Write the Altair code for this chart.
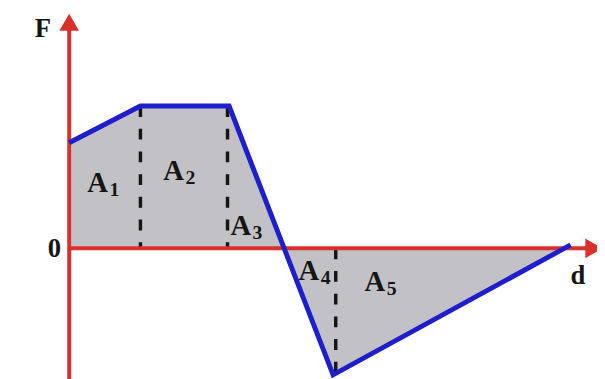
import altair as alt
import pandas as pd

# Force curve F(d)
d_pts = [0.0, 1.35, 3.03, 5.0, 9.5]
F_pts = [3.69, 4.97, 4.97, -4.42, 0.12]

# dashed separators
dash_d = [1.35, 3.0, 5.05]
dash_top = [4.97, 4.97, 0.0]
dash_bot = [0.0, 0.0, -4.42]

# area labels
area_letter = ["A", "A", "A", "A", "A"]
area_sub = ["1", "2", "3", "4", "5"]
area_d = [0.54, 1.98, 3.25, 4.54, 5.79]
area_F = [2.28, 2.69, 0.76, -0.79, -1.17]

# axis names
ax_text = ["F", "0", "d"]
ax_d = [-0.50, -0.28, 9.64]
ax_F = [7.66, -0.03, -0.98]

# axes extents
yaxis_d = [0.0]
yaxis_lo = [-4.6]
yaxis_hi = [7.9]
xaxis_F = [0.0]
xaxis_lo = [0.0]
xaxis_hi = [9.94]

XD = [-1.159, 10.0]
YD = [-4.48, 8.31]
xs = alt.Scale(domain=XD, nice=False, zero=False)
ys = alt.Scale(domain=YD, nice=False, zero=False)

RED = "#d9302c"
BLUE = "#1e1ecc"
GRAY = "#c2c2c6"
INK = "#151515"
FONT = "Liberation Serif"

curve = pd.DataFrame({"d": d_pts, "F": F_pts})
dash = pd.DataFrame({"d": dash_d, "top": dash_top, "bot": dash_bot})
labels = pd.DataFrame({"d": area_d, "F": area_F, "a": area_letter, "s": area_sub})
axl = pd.DataFrame({"d": ax_d, "F": ax_F, "t": ax_text})
yax = pd.DataFrame({"d": yaxis_d, "lo": yaxis_lo, "hi": yaxis_hi})
xax = pd.DataFrame({"F": xaxis_F, "lo": xaxis_lo, "hi": xaxis_hi})
yarrow = pd.DataFrame({"d": yaxis_d, "F": yaxis_hi})
xarrow = pd.DataFrame({"d": xaxis_hi, "F": xaxis_F})

X = lambda f: alt.X(f, type="quantitative", scale=xs, axis=None)
Y = lambda f: alt.Y(f, type="quantitative", scale=ys, axis=None)

area = alt.Chart(curve).mark_area(color=GRAY, opacity=1).encode(
    x=X("d"), y=Y("F"), y2=alt.datum(0))

dashes = alt.Chart(dash).mark_rule(color=INK, strokeWidth=3.5, strokeDash=[11, 12]).encode(
    x=X("d"), y=Y("top"), y2="bot")

yaxis = alt.Chart(yax).mark_rule(color=RED, strokeWidth=4).encode(
    x=X("d"), y=Y("lo"), y2="hi")
xaxis = alt.Chart(xax).mark_rule(color=RED, strokeWidth=4).encode(
    y=Y("F"), x=X("lo"), x2="hi")

ya = alt.Chart(yarrow).mark_point(shape="triangle-up", filled=True, size=400,
                                  color=RED, opacity=1).encode(x=X("d"), y=Y("F"))
xa = alt.Chart(xarrow).mark_point(shape="triangle-right", filled=True, size=400,
                                  color=RED, opacity=1).encode(x=X("d"), y=Y("F"))

line = alt.Chart(curve).mark_line(color=BLUE, strokeWidth=5, strokeJoin="miter").encode(
    x=X("d"), y=Y("F"))

letters = alt.Chart(labels).mark_text(font=FONT, fontWeight="bold", fontSize=29,
                                      color=INK, align="center", baseline="middle").encode(
    x=X("d"), y=Y("F"), text="a:N")
subs = alt.Chart(labels).mark_text(font=FONT, fontWeight="bold", fontSize=20,
                                   color=INK, align="center", baseline="middle",
                                   dx=17, dy=7).encode(
    x=X("d"), y=Y("F"), text="s:N")
axtext = alt.Chart(axl).mark_text(font=FONT, fontWeight="bold", fontSize=27,
                                  color=INK, align="center", baseline="middle").encode(
    x=X("d"), y=Y("F"), text="t:N")

chart = alt.layer(area, dashes, yaxis, xaxis, ya, xa, line, letters, subs, axtext).properties(
    width=597, height=371, padding=0,
    autosize=alt.AutoSizeParams(type="none"),
    background="white",
).configure_view(stroke=None)

chart.save("out.html", embed_options={"renderer": "svg", "actions": False})
